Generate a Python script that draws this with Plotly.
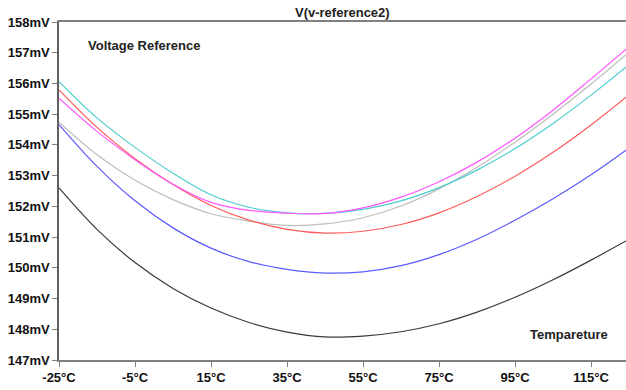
import plotly.graph_objects as go

# Temperature sweep points (°C)
temps = [-25, -15, -5, 5, 15, 25, 35, 45, 55, 65, 75, 85, 95, 105, 115, 125]

# V(v-reference2) in mV for each sweep step
v_black = [152.60, 151.25, 150.17, 149.33, 148.69, 148.22, 147.91, 147.75,
           147.78, 147.92, 148.18, 148.56, 149.04, 149.61, 150.25, 150.93]
v_blue = [154.66, 153.30, 152.18, 151.30, 150.64, 150.20, 149.95, 149.83,
          149.87, 150.07, 150.43, 150.93, 151.55, 152.25, 153.03, 153.90]
v_red = [155.79, 154.57, 153.55, 152.71, 152.03, 151.55, 151.25, 151.13,
         151.19, 151.41, 151.79, 152.32, 152.98, 153.76, 154.65, 155.63]
v_cyan = [156.06, 154.88, 153.92, 153.08, 152.38, 151.97, 151.79, 151.77,
          151.90, 152.18, 152.61, 153.18, 153.88, 154.70, 155.62, 156.62]
v_magenta = [155.52, 154.44, 153.52, 152.72, 152.13, 151.87, 151.78, 151.77,
             151.95, 152.30, 152.80, 153.44, 154.22, 155.13, 156.15, 157.20]
v_gray = [154.74, 153.68, 152.85, 152.22, 151.76, 151.52, 151.38, 151.43,
          151.63, 152.01, 152.57, 153.27, 154.09, 155.00, 155.98, 157.02]

x_ticks = [-25, -5, 15, 35, 55, 75, 95, 115]
x_tick_text = ["-25°C", "-5°C", "15°C", "35°C", "55°C", "75°C", "95°C", "115°C"]
y_ticks = list(range(147, 159))
y_tick_text = [f"{v}mV" for v in y_ticks]

series = [
    (v_gray, "#bdbdbd"),
    (v_black, "#3a3a3a"),
    (v_blue, "#5a5aff"),
    (v_red, "#ff5a5a"),
    (v_cyan, "#4ccccc"),
    (v_magenta, "#ff55ff"),
]

fig = go.Figure()
for vals, color in series:
    fig.add_trace(go.Scatter(
        x=temps, y=vals, mode="lines",
        line=dict(color=color, width=1.2, shape="spline", smoothing=1.0),
        showlegend=False, hoverinfo="skip",
    ))

font_family = "Liberation Sans, Arial, sans-serif"
tick_font = dict(family=font_family, size=13, color="#111111", weight="bold")
label_font = dict(family=font_family, size=13, color="#222222", weight="bold")

fig.update_layout(
    width=626, height=390,
    margin=dict(l=59, r=0, t=22, b=30),
    paper_bgcolor="white", plot_bgcolor="white",
    xaxis=dict(
        range=[-25, 124.2], tickmode="array", tickvals=x_ticks, ticktext=x_tick_text,
        showgrid=False, zeroline=False, showline=True, linecolor="#808080", linewidth=1.5,
        mirror=True, ticks="outside", ticklen=5, tickcolor="#808080", tickwidth=1,
        tickfont=tick_font,
    ),
    yaxis=dict(
        range=[147, 158], tickmode="array", tickvals=y_ticks, ticktext=y_tick_text,
        showgrid=False, zeroline=False, showline=True, linecolor="#606060", linewidth=1.5,
        ticks="outside", ticklen=5, tickcolor="#808080", tickwidth=1,
        tickfont=tick_font,
    ),
    annotations=[
        dict(text="V(v-reference2)", xref="paper", yref="paper", x=0.5, y=1,
             xanchor="center", yanchor="bottom", yshift=0, showarrow=False,
             font=label_font),
        dict(text="Voltage Reference", xref="paper", yref="paper", x=0.0476, y=0.929,
             xanchor="left", yanchor="middle", showarrow=False, font=label_font),
        dict(text="Tempareture", xref="paper", yref="paper", x=0.9718, y=0.074,
             xanchor="right", yanchor="middle", showarrow=False, font=label_font),
    ],
)

fig.write_html("out.html")
